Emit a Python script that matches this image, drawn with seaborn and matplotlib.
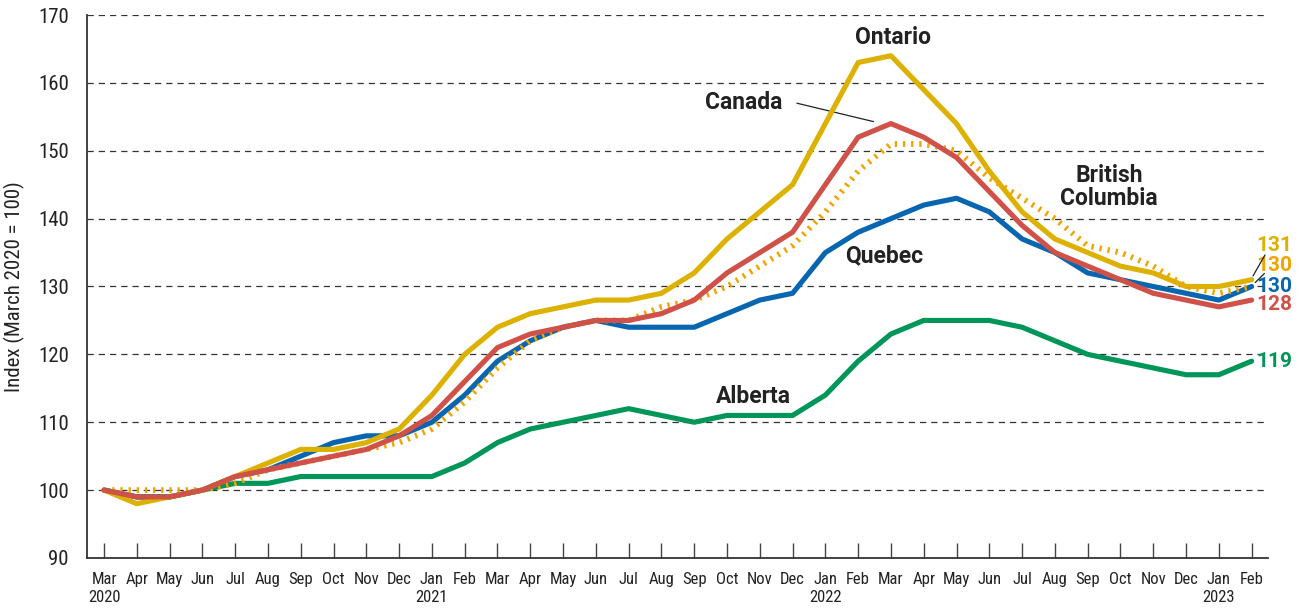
import matplotlib
matplotlib.use("Agg")
import matplotlib.pyplot as plt
from matplotlib import font_manager
import seaborn as sns
import pandas as pd
import numpy as np

months = ["Mar", "Apr", "May", "Jun", "Jul", "Aug", "Sep", "Oct", "Nov", "Dec", "Jan", "Feb"] * 3
years = {0: "2020", 10: "2021", 22: "2022", 34: "2023"}
tick_labels = [m + ("\n" + years[i] if i in years else "") for i, m in enumerate(months)]

ontario = [100, 98, 99, 100, 102, 104, 106, 106, 107, 109, 114, 120, 124, 126, 127, 128, 128, 129,
           132, 137, 141, 145, 154, 163, 164, 159, 154, 147, 141, 137, 135, 133, 132, 130, 130, 131]
canada = [100, 99, 99, 100, 102, 103, 104, 105, 106, 108, 111, 116, 121, 123, 124, 125, 125, 126,
          128, 132, 135, 138, 145, 152, 154, 152, 149, 144, 139, 135, 133, 131, 129, 128, 127, 128]
quebec = [100, 99, 99, 100, 102, 103, 105, 107, 108, 108, 110, 114, 119, 122, 124, 125, 124, 124,
          124, 126, 128, 129, 135, 138, 140, 142, 143, 141, 137, 135, 132, 131, 130, 129, 128, 130]
british_columbia = [100, 100, 100, 100, 101, 103, 104, 105, 106, 107, 109, 113, 118, 122, 124, 125, 125, 127,
                    128, 130, 133, 136, 141, 147, 151, 151, 150, 146, 143, 140, 136, 135, 133, 130, 129, 130]
alberta = [100, 99, 99, 100, 101, 101, 102, 102, 102, 102, 102, 104, 107, 109, 110, 111, 112, 111,
           110, 111, 111, 111, 114, 119, 123, 125, 125, 125, 124, 122, 120, 119, 118, 117, 117, 119]

C_ON = "#DDB100"
C_BC = "#EFA400"
C_CA = "#CF5148"
C_QC = "#0866B0"
C_AB = "#009559"
DARK = "#222222"

sns.set_theme(style="white")

# pick a condensed family if one is installed, else Roboto
names = sorted({f.name for f in font_manager.fontManager.ttflist})
narrow = None
for cand in ["Roboto Condensed", "Liberation Sans Narrow", "Open Sans Condensed", "DejaVu Sans Condensed",
             "Noto Sans Condensed", "Arial Narrow"]:
    if cand in names:
        narrow = cand
        break
cond = [n for n in names if ("Condensed" in n or "Narrow" in n)]
if narrow is None and cond:
    narrow = cond[0]
if narrow is None:
    narrow = "Roboto"
    tick_fs, ytick_fs, ylab_fs = 10.6, 13.5, 14
else:
    tick_fs, ytick_fs, ylab_fs = 12, 15, 15
plt.rcParams["font.family"] = [narrow, "DejaVu Sans"]

fig = plt.figure(figsize=(13.04, 6.15), dpi=100)
ax = fig.add_axes([0.0667, 0.0927, 0.9057, 0.8829])

x = np.arange(len(months))
df = pd.DataFrame({"x": x, "Ontario": ontario, "Canada": canada, "Quebec": quebec,
                   "British Columbia": british_columbia, "Alberta": alberta})

lw = 3.7
sns.lineplot(data=df, x="x", y="Alberta", ax=ax, color=C_AB, lw=lw, zorder=3)
sns.lineplot(data=df, x="x", y="Quebec", ax=ax, color=C_QC, lw=lw, zorder=4)
sns.lineplot(data=df, x="x", y="Ontario", ax=ax, color=C_ON, lw=lw, zorder=5)
sns.lineplot(data=df, x="x", y="British Columbia", ax=ax, color=C_BC, lw=4.2, zorder=6)
ax.lines[-1].set_dashes((0.4, 1.0))
ax.lines[-1].set_dash_capstyle("butt")
sns.lineplot(data=df, x="x", y="Canada", ax=ax, color=C_CA, lw=lw, zorder=7)

ax.set_xlim(-0.52, 35.5)
ax.set_ylim(90, 170)
ax.set_yticks(range(90, 171, 10))
ax.set_xticks(x)
ax.set_xticklabels(tick_labels, fontsize=tick_fs, color=DARK, linespacing=1.25)
ax.tick_params(axis="x", bottom=True, direction="in", length=11, width=1, color="#444444", pad=10)
ax.tick_params(axis="y", left=False, length=0, labelsize=ytick_fs, labelcolor=DARK, pad=13)

for v in range(100, 171, 10):
    ax.axhline(v, color="#333333", lw=0.9, ls=(0, (5, 4)), zorder=1)

for s in ["top", "right"]:
    ax.spines[s].set_visible(False)
for s in ["left", "bottom"]:
    ax.spines[s].set_color("#333333")
    ax.spines[s].set_linewidth(1.3)

ax.set_xlabel("")
ax.set_ylabel("Index (March 2020 = 100)", fontsize=ylab_fs, color=DARK)
ax.yaxis.set_label_coords(-0.0525, 0.5)

bold = dict(family=["Roboto", "DejaVu Sans"], fontweight="bold", fontsize=16.5, color=DARK)
ax.text(24.05, 166.7, "Ontario", ha="center", va="center", **bold)
ax.text(19.5, 157.1, "Canada", ha="center", va="center", **bold)
ax.annotate("", xy=(23.55, 154.2), xytext=(21.05, 157.1),
            arrowprops=dict(arrowstyle="-", color=DARK, lw=0.9))
ax.text(30.65, 144.6, "British\nColumbia", ha="center", va="center", linespacing=1.0, **bold)
ax.text(23.8, 134.6, "Quebec", ha="center", va="center", **bold)
ax.text(19.8, 113.8, "Alberta", ha="center", va="center", **bold)

end = dict(family=["Roboto", "DejaVu Sans"], fontweight="bold", fontsize=15, ha="left", va="center")
ax.text(35.15, 136.1, f"{ontario[-1]}", color=C_ON, **end)
ax.text(35.15, 133.1, f"{british_columbia[-1]}", color=C_BC, **end)
ax.text(35.15, 130.0, f"{quebec[-1]}", color=C_QC, **end)
ax.text(35.15, 127.4, f"{canada[-1]}", color=C_CA, **end)
ax.text(35.15, 119.0, f"{alberta[-1]}", color=C_AB, **end)
ax.annotate("", xy=(35.0, ontario[-1] + 0.2), xytext=(35.45, 135.0),
            arrowprops=dict(arrowstyle="-", color=DARK, lw=0.9))
ax.annotate("", xy=(35.05, british_columbia[-1] + 0.3), xytext=(35.45, 132.2),
            arrowprops=dict(arrowstyle="-", color=DARK, lw=0.9))

fig.savefig("out.png", dpi=100)
